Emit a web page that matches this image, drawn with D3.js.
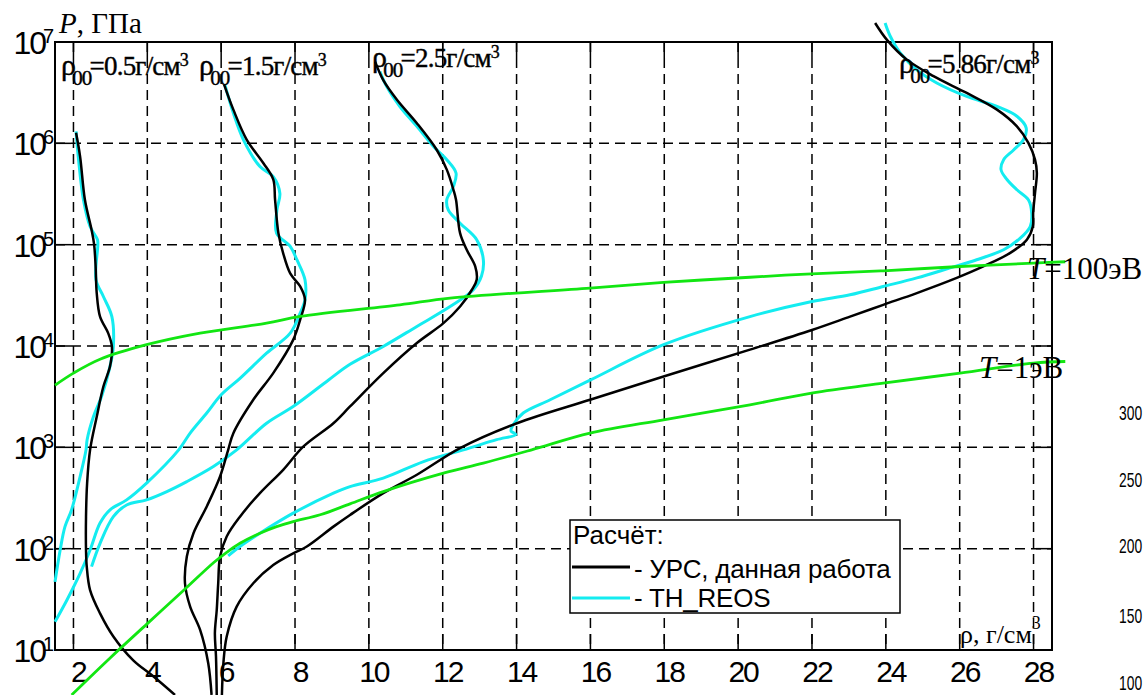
<!DOCTYPE html>
<html>
<head>
<meta charset="utf-8">
<script src="https://cdn.jsdelivr.net/npm/d3@7"></script>
<style>
  body { margin: 0; background: #fff; }
  svg { display: block; }
</style>
</head>
<body>
<div id="chart"></div>
<script>
// --- data: [rho (g/cm3), P (GPa)]
const urs05 = [[2.07,1.27e6],[2.18,7.4e5],[2.31,2.77e5],[2.49,1.40e5],[2.56,1.0e5],[2.60,6.1e4],[2.63,3.33e4],[2.72,1.95e4],[2.94,1.34e4],[3.04,9.9e3],[2.99,6.3e3],[2.81,3.98e3],[2.63,2.0e3],[2.45,944],[2.37,444],[2.34,207],[2.34,97],[2.36,66.5],[2.45,39],[2.72,23],[3.08,13.6],[3.62,7.9],[4.16,5.5],[4.75,3.6]];
const reos05 = [[2.07,1.31e6],[2.13,7.4e5],[2.27,2.77e5],[2.45,1.51e5],[2.65,1.12e5],[2.66,1.0e5],[2.61,4.5e4],[2.81,3.08e4],[3.04,1.95e4],[3.08,9.9e3],[2.99,6.3e3],[2.76,3.17e3],[2.54,2.0e3],[2.37,1.19e3],[2.34,944],[2.18,515],[1.95,242],[1.77,165],[1.64,97],[1.5,47]];

const urs15 = [[6.08,3.8e6],[6.33,2.15e6],[6.69,1.09e6],[7.14,6.4e5],[7.41,4.4e5],[7.46,2.77e5],[7.55,1.30e5],[7.68,8.2e4],[7.87,5.2e4],[8.14,3.87e4],[8.27,2.86e4],[8.14,1.82e4],[7.95,1.15e4],[7.41,5.4e3],[6.87,2.95e3],[6.33,1.38e3],[6.19,944],[5.97,515],[5.61,261],[5.25,142],[5.07,83.6],[5.02,45.6],[5.16,26.8],[5.43,15.8],[5.65,7.4],[5.74,3.6]];
const reos15 = [[6.10,3.8e6],[6.33,1.99e6],[6.60,1.09e6],[7.05,5.9e5],[7.41,4.7e5],[7.59,3.2e5],[7.51,2.2e5],[7.50,1.30e5],[7.87,9.6e4],[8.05,7.1e4],[8.27,4.5e4],[8.27,2.86e4],[8.14,2.11e4],[7.87,1.34e4],[7.23,8.5e3],[6.51,4.8e3],[6.0,3.3e3],[5.61,2.18e3],[5.16,1.38e3],[4.85,944],[3.98,444],[3.44,303],[2.99,242],[2.72,179],[2.45,97],[2.18,57],[1.82,31],[1.5,19]];

const urs25 = [[10.17,6.4e6],[10.39,4.2e6],[10.76,2.69e6],[11.30,1.58e6],[11.84,8.6e5],[12.11,5.5e5],[12.29,3.48e5],[12.36,2.77e5],[12.47,1.30e5],[12.65,8.9e4],[12.88,6.1e4],[12.92,4.5e4],[12.79,3.59e4],[12.47,2.45e4],[12.02,1.68e4],[11.30,1.07e4],[10.39,5.4e3],[9.49,2.53e3],[9.04,1.73e3],[8.23,1.02e3],[7.68,600],[7.05,353],[6.51,207],[6.15,132],[5.97,83.6],[5.92,45.6],[5.88,24.8],[5.83,14.7],[5.86,8.6],[5.88,3.6]];
const reos25 = [[10.30,5.1e6],[10.48,3.65e6],[10.84,2.31e6],[11.30,1.47e6],[11.75,9.3e5],[12.11,6.9e5],[12.36,5.1e5],[12.29,3.76e5],[12.11,2.77e5],[12.15,2.21e5],[12.47,1.63e5],[12.92,1.12e5],[13.10,7.1e4],[13.05,4.9e4],[12.83,3.59e4],[12.20,2.45e4],[11.30,1.56e4],[10.39,9.9e3],[9.49,6.6e3],[8.9,4.6e3],[7.95,2.53e3],[7.23,1.73e3],[6.42,944],[5.79,646],[5.07,459],[4.53,366],[3.98,303],[3.44,270],[3.08,207],[2.72,113],[2.49,66.5]];

const urs586 = [[23.71,1.54e7],[24.03,1.05e7],[24.57,6.7e6],[25.29,4.6e6],[26.19,3.14e6],[27.01,2.15e6],[27.55,1.47e6],[27.86,1.01e6],[28.04,6.9e5],[28.09,5.1e5],[28.04,3.23e5],[27.99,2.07e5],[27.98,1.51e5],[27.82,1.12e5],[27.37,8.3e4],[26.64,6.1e4],[25.92,4.7e4],[24.84,3.33e4],[23.93,2.55e4],[23.03,1.95e4],[22.0,1.44e4],[20.32,9.2e3],[17.98,5.0e3],[15.99,2.95e3],[14.01,1.73e3],[12.47,982],[11.30,536],[10.39,353],[9.49,215],[9.04,165],[8.32,105],[7.95,90],[7.41,69],[6.87,45.6],[6.42,26.8],[6.15,13.6],[6.06,7.4],[6.02,3.6]];
const reos586 = [[23.98,1.54e7],[24.12,1.14e7],[24.39,7.8e6],[24.84,5.3e6],[25.38,3.94e6],[26.19,2.9e6],[27.01,2.31e6],[27.55,1.85e6],[27.80,1.42e6],[27.73,1.09e6],[27.46,8.6e5],[27.19,6.9e5],[27.12,5.5e5],[27.28,4.4e5],[27.55,3.48e5],[27.86,2.77e5],[27.95,2.05e5],[27.91,1.51e5],[27.64,1.16e5],[27.19,8.9e4],[26.46,7.1e4],[25.74,5.9e4],[24.84,4.7e4],[23.93,3.87e4],[23.03,3.2e4],[22.0,2.75e4],[20.32,1.95e4],[17.98,1.03e4],[15.99,4.6e3],[14.91,2.95e3],[14.18,2.18e3],[13.91,1.67e3],[13.85,1.45e3],[13.98,1.34e3],[13.46,1.19e3],[12.56,944],[11.48,724],[10.39,497],[9.49,410],[9.04,353],[7.95,224],[7.05,142],[6.51,105],[6.19,85]];

const iso100 = [[1.5,4.1e3],[2.0,5.4e3],[2.72,7.4e3],[3.98,1.03e4],[5.43,1.34e4],[7.23,1.68e4],[8.14,1.96e4],[10.84,2.55e4],[12.2,2.97e4],[15.99,3.73e4],[17.98,4.24e4],[20.32,4.77e4],[21.99,5.16e4],[23.93,5.52e4],[26.01,6.09e4],[28.0,6.58e4],[28.86,6.78e4]];
const iso1 = [[1.95,3.6],[3.0,8.4],[4.0,18.2],[5.0,39.3],[5.8,73],[6.15,92],[6.51,113],[7.05,142],[7.50,165],[7.95,185],[8.68,216],[9.49,277],[10.39,366],[12.02,556],[13.10,698],[14.41,945],[15.99,1380],[17.98,1870],[20.32,2630],[21.99,3430],[23.93,4300],[26.01,5400],[28.0,6780],[28.86,7030]];

const rho00 = ["0.5", "1.5", "2.5", "5.86"];
const xTicks = [2,4,6,8,10,12,14,16,18,20,22,24,26,28];
const yTicks = [1e1,1e2,1e3,1e4,1e5,1e6,1e7];
const strayTicks = ["300", "250", "200", "150", "100"];

// --- layout
let W = 1145, H = 695;
let svg = d3.select("#chart").append("svg")
    .attr("width", W).attr("height", H);

let x = d3.scaleLinear().domain([1.5, 28.5]).range([55, 1052]);
let y = d3.scaleLog().domain([10, 1e7]).range([650, 42]);

let pTop = y.range()[1], pBot = y.range()[0], pLeft = x.range()[0], pRight = x.range()[1];

// grid
let grid = svg.append("g").attr("stroke", "#000").attr("stroke-width", 1.5);
grid.selectAll(".vg").data(xTicks).enter().append("line")
    .attr("x1", d => x(d)).attr("x2", d => x(d))
    .attr("y1", pTop).attr("y2", pBot)
    .attr("stroke-dasharray", "10,6");
grid.selectAll(".hg").data(yTicks.slice(1, -1)).enter().append("line")
    .attr("y1", d => y(d)).attr("y2", d => y(d))
    .attr("x1", pLeft).attr("x2", pRight)
    .attr("stroke-dasharray", "10,6");

// inward ticks on all four sides
let tl = 16;
xTicks.forEach(function (d) {
    grid.append("line").attr("x1", x(d)).attr("x2", x(d)).attr("y1", pTop).attr("y2", pTop + tl);
    grid.append("line").attr("x1", x(d)).attr("x2", x(d)).attr("y1", pBot).attr("y2", pBot - tl);
});
yTicks.forEach(function (d) {
    grid.append("line").attr("y1", y(d)).attr("y2", y(d)).attr("x1", pLeft).attr("x2", pLeft + tl);
    grid.append("line").attr("y1", y(d)).attr("y2", y(d)).attr("x1", pRight).attr("x2", pRight - tl);
});

// frame
svg.append("rect")
    .attr("x", pLeft).attr("y", pTop)
    .attr("width", pRight - pLeft).attr("height", pBot - pTop)
    .attr("fill", "none").attr("stroke", "#000").attr("stroke-width", 2);

// tick labels
svg.selectAll(".xl").data(xTicks).enter().append("text")
    .attr("x", d => x(d) + 5).attr("y", 682)
    .attr("text-anchor", "middle")
    .attr("font-family", "Liberation Sans, Arial, sans-serif")
    .attr("font-size", 30).attr("letter-spacing", -2)
    .text(d => d);

yTicks.forEach(function (d) {
    svg.append("text")
        .attr("x", 45).attr("y", y(d) + 12)
        .attr("text-anchor", "end")
        .attr("font-family", "Liberation Sans, Arial, sans-serif")
        .attr("font-size", 32).attr("letter-spacing", -2)
        .text("10");
    svg.append("text")
        .attr("x", 43).attr("y", y(d) + 1)
        .attr("font-family", "Liberation Sans, Arial, sans-serif")
        .attr("font-size", 20)
        .text(Math.round(Math.log10(d)));
});

// curves
let line = d3.line()
    .x(d => x(d[0]))
    .y(d => y(d[1]))
    .curve(d3.curveCatmullRom.alpha(0.5));

function curve(data, color, w) {
    svg.append("path")
        .datum(data)
        .attr("fill", "none")
        .attr("stroke", color)
        .attr("stroke-width", w)
        .attr("stroke-linejoin", "round")
        .attr("d", line);
}

let cyan = "#14ecf0", green = "#12e612";
[reos05, reos15, reos25, reos586].forEach(d => curve(d, cyan, 3));
[urs05, urs15, urs25, urs586].forEach(d => curve(d, "#000", 2.5));
[iso100, iso1].forEach(d => curve(d, green, 2.8));

// text labels
let serif = "Liberation Serif, Times New Roman, serif";

let t = svg.append("text").attr("x", 59).attr("y", 33)
    .attr("font-family", serif).attr("font-size", 29);
t.append("tspan").attr("font-style", "italic").text("P");
t.append("tspan").text(", ГПа");

let labelPos = [[61, 75], [199, 75], [372, 67], [899, 73]];
rho00.forEach(function (v, i) {
    let tt = svg.append("text")
        .attr("x", labelPos[i][0]).attr("y", labelPos[i][1])
        .attr("font-family", serif).attr("font-size", 27)
        .attr("stroke", "#000").attr("stroke-width", 0.4)
        .attr("letter-spacing", -0.8);
    tt.append("tspan").attr("font-size", 30).text("ρ");
    tt.append("tspan").attr("dy", 10).attr("dx", -3).attr("font-size", 21).text("00");
    tt.append("tspan").attr("dy", -10).attr("dx", -2).text("=" + v + "г/см");
    tt.append("tspan").attr("dy", -9).attr("font-size", 18).text("3");
});

let xt = svg.append("text").attr("x", 960).attr("y", 643)
    .attr("font-family", serif).attr("font-size", 26);
xt.append("tspan").text("ρ, г/см");
xt.append("tspan").attr("dy", -14).attr("font-size", 18).text("3");

function tLabel(xp, yp, v) {
    let tt = svg.append("text").attr("x", xp).attr("y", yp)
        .attr("font-family", serif).attr("font-size", 31);
    tt.append("tspan").attr("font-style", "italic").text("T");
    tt.append("tspan").text("=" + v + "эВ");
}
tLabel(1027, 279, "100");
tLabel(979, 378, "1");

// legend
let lg = svg.append("g");
lg.append("rect").attr("x", 570).attr("y", 520).attr("width", 330).attr("height", 93)
    .attr("fill", "#fff").attr("stroke", "#000").attr("stroke-width", 1.5);
lg.append("text").attr("x", 573).attr("y", 544)
    .attr("font-family", "Liberation Sans, Arial, sans-serif").attr("font-size", 26)
    .text("Расчёт:");
let legItems = [["- УРС, данная работа", "#000", 567, 578], ["- TH_REOS", cyan, 598, 607]];
legItems.forEach(function (d) {
    lg.append("line").attr("x1", 572).attr("x2", 630).attr("y1", d[2]).attr("y2", d[2])
        .attr("stroke", d[1]).attr("stroke-width", 3);
    lg.append("text").attr("x", 634).attr("y", d[3])
        .attr("font-family", "Liberation Sans, Arial, sans-serif").attr("font-size", 26)
        .attr("letter-spacing", -0.2).text(d[0]);
});

// numbers of a neighbouring plot at the right edge (squeezed to fit)
let strayY = [420, 487, 553, 623, 690];
strayTicks.forEach(function (s, i) {
    svg.append("text")
        .attr("transform", `translate(1119,${strayY[i]}) scale(0.66,1)`)
        .attr("font-family", "Liberation Sans, Arial, sans-serif").attr("font-size", 21)
        .text(s);
});
</script>
</body>
</html>
